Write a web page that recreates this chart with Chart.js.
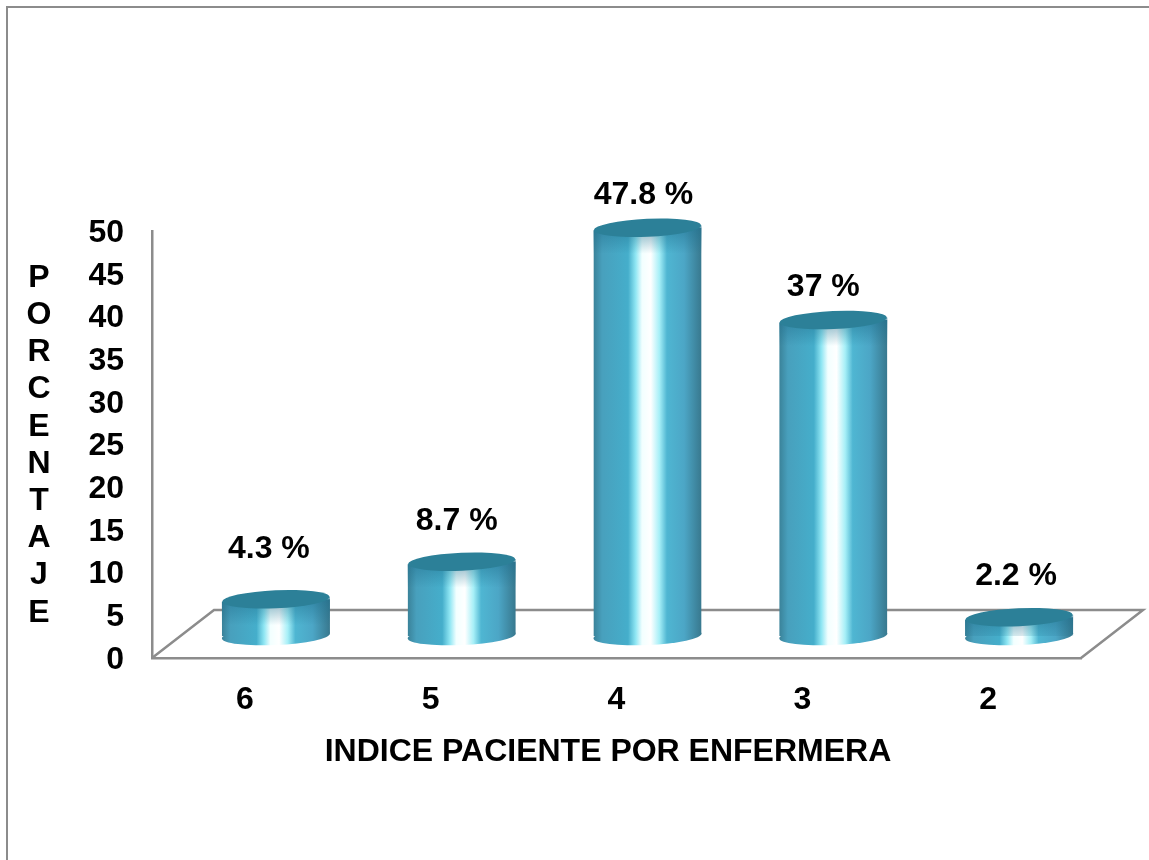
<!DOCTYPE html>
<html lang="es">
<head>
<meta charset="utf-8">
<title>Indice paciente por enfermera</title>
<style>
  html, body { margin: 0; padding: 0; background: #fff; }
  #wrap { position: relative; width: 1149px; height: 860px; }
</style>
<script src="https://cdn.jsdelivr.net/npm/chart.js@4/dist/chart.umd.js"></script>
</head>
<body>
<div id="wrap"><canvas id="chart" width="1149" height="860"></canvas></div>
<script>
// Chart content
const categories = ['6', '5', '4', '3', '2'];
const percentages = [4.3, 8.7, 47.8, 37, 2.2];
const yTicks = [0, 5, 10, 15, 20, 25, 30, 35, 40, 45, 50];
const yAxisLetters = ['P', 'O', 'R', 'C', 'E', 'N', 'T', 'A', 'J', 'E'];
const xAxisTitle = 'INDICE PACIENTE POR ENFERMERA';

// Oblique projection of the floor: the cylinders stand halfway back on it
const FLOOR_DX = 62, FLOOR_DY = 48;
const BAR_DX = 31, BAR_DY = 22;
const RIM_RY = 9;
const RIM_TILT = -0.045;
// Hand placement of each value label relative to the top of its cylinder
const labelOffsets = [[-7, -50], [-5, -41], [-4, -33], [-10, -33], [-3, -41]];

const FONT_FAMILY = '"Liberation Sans", Arial, sans-serif';
const FONT_SIZE = 32;
const FONT = `bold ${FONT_SIZE}px ${FONT_FAMILY}`;
const AXIS_GREY = '#8c8c8c';

function cylinderGradient(ctx, cx, halfWidth) {
  const g = ctx.createLinearGradient(cx - halfWidth, 0, cx + halfWidth, 0);
  g.addColorStop(0, '#3a8299');
  g.addColorStop(0.08, '#48a0bd');
  g.addColorStop(0.32, '#45aecb');
  g.addColorStop(0.39, '#8fe6f3');
  g.addColorStop(0.45, '#f2ffff');
  g.addColorStop(0.53, '#ffffff');
  g.addColorStop(0.61, '#a6eff7');
  g.addColorStop(0.68, '#4fb6d2');
  g.addColorStop(0.84, '#4ca6c6');
  g.addColorStop(1, '#38788e');
  return g;
}

const cylinderPlugin = {
  id: 'cylinders',
  beforeDraw(chart) {
    // Nudge the value axis labels down so the digits sit centred on their ticks
    const s = chart.scales.y;
    const items = s._labelItems || (s._labelItems = s._computeLabelItems(chart.chartArea));
    items.forEach(item => { item.options.translation[1] += 2; });
  },
  beforeDatasetsDraw(chart) {
    const { ctx, chartArea: a } = chart;
    // Floor outline and the frame around the plot
    ctx.save();
    ctx.strokeStyle = AXIS_GREY;
    ctx.lineWidth = 2.5;
    ctx.beginPath();
    ctx.moveTo(a.left, a.bottom);
    ctx.lineTo(a.left + FLOOR_DX, a.bottom - FLOOR_DY);
    ctx.lineTo(a.right + FLOOR_DX, a.bottom - FLOOR_DY);
    ctx.lineTo(a.right, a.bottom);
    ctx.stroke();
    ctx.lineWidth = 2;
    ctx.beginPath();
    ctx.moveTo(7, 860);
    ctx.lineTo(7, 7);
    ctx.lineTo(1149, 7);
    ctx.stroke();
    ctx.restore();

    const meta = chart.getDatasetMeta(0);
    ctx.save();
    ctx.translate(BAR_DX, -BAR_DY);
    // Round base of each cylinder, under the body
    meta.data.forEach(bar => {
      const half = bar.width / 2;
      ctx.fillStyle = cylinderGradient(ctx, bar.x, half);
      ctx.beginPath();
      ctx.ellipse(bar.x, bar.base, half, RIM_RY, RIM_TILT, 0, Math.PI * 2);
      ctx.fill();
    });
    // Slant the ends of the bodies so they meet the tilted rims
    ctx.save();
    ctx.beginPath();
    meta.data.forEach(bar => {
      const half = bar.width / 2;
      const rise = half * Math.sin(-RIM_TILT);
      ctx.moveTo(bar.x - half, bar.y + rise);
      ctx.lineTo(bar.x + half, bar.y - rise);
      ctx.lineTo(bar.x + half, bar.base - rise);
      ctx.lineTo(bar.x - half, bar.base + rise);
      ctx.closePath();
    });
    ctx.clip();
    // Bodies are drawn by the library with this offset still applied
  },
  afterDatasetsDraw(chart) {
    const { ctx } = chart;
    ctx.restore();
    const meta = chart.getDatasetMeta(0);
    meta.data.forEach(bar => {
      const half = bar.width / 2;
      const rise = half * Math.sin(-RIM_TILT);
      // Shadow under the rim
      const depth = Math.min(26, bar.base - bar.y);
      const shade = ctx.createLinearGradient(0, bar.y, 0, bar.y + 26);
      shade.addColorStop(0, 'rgba(30,110,140,0.55)');
      shade.addColorStop(1, 'rgba(30,110,140,0)');
      ctx.fillStyle = shade;
      ctx.beginPath();
      ctx.moveTo(bar.x - half, bar.y + rise);
      ctx.lineTo(bar.x + half, bar.y - rise);
      ctx.lineTo(bar.x + half, bar.y + depth);
      ctx.lineTo(bar.x - half, bar.y + depth);
      ctx.closePath();
      ctx.fill();
      // Top face
      ctx.fillStyle = '#2c8098';
      ctx.beginPath();
      ctx.ellipse(bar.x, bar.y, half - 0.5, RIM_RY, RIM_TILT, 0, Math.PI * 2);
      ctx.fill();
    });
    ctx.restore();

    // Value labels
    ctx.save();
    ctx.font = FONT;
    ctx.fillStyle = '#000';
    ctx.textAlign = 'center';
    ctx.textBaseline = 'middle';
    meta.data.forEach((bar, i) => {
      const [ox, oy] = labelOffsets[i];
      ctx.fillText(percentages[i] + ' %', bar.x + BAR_DX + ox, bar.y - BAR_DY + oy);
    });
    // Stacked vertical axis title
    yAxisLetters.forEach((letter, i) => {
      ctx.fillText(letter, 39, 278 + i * 37.2);
    });
    // Horizontal axis title
    ctx.fillText(xAxisTitle, 608, 752);
    ctx.restore();
  }
};

new Chart(document.getElementById('chart'), {
  type: 'bar',
  plugins: [cylinderPlugin],
  data: {
    labels: categories,
    datasets: [{
      data: percentages,
      clip: false,
      borderWidth: 0,
      barPercentage: 0.582,
      categoryPercentage: 1,
      backgroundColor(c) {
        const chart = c.chart;
        if (!chart.chartArea || c.dataIndex === undefined) return '#48a0bd';
        const x = chart.scales.x.getPixelForValue(c.dataIndex);
        return cylinderGradient(chart.ctx, x, 54);
      }
    }]
  },
  options: {
    responsive: false,
    animation: false,
    layout: { padding: { top: 231, right: 68, bottom: 0, left: 0 } },
    plugins: { legend: { display: false }, tooltip: { enabled: false }, title: { display: false } },
    scales: {
      x: {
        afterFit(s) { s.height = 202; },
        grid: { display: false, drawTicks: false },
        border: { display: true, color: AXIS_GREY, width: 2.5 },
        ticks: { color: '#000', padding: 23, maxRotation: 0, font: { family: FONT_FAMILY, size: FONT_SIZE, weight: 'bold' } }
      },
      y: {
        min: 0,
        max: 50,
        afterFit(s) { s.width = 152; },
        afterBuildTicks(s) { s.ticks = yTicks.map(v => ({ value: v })); },
        grid: { display: false, drawTicks: false },
        border: { display: true, color: AXIS_GREY, width: 2.5 },
        ticks: { color: '#000', padding: 28, font: { family: FONT_FAMILY, size: FONT_SIZE, weight: 'bold' } }
      }
    }
  }
});
</script>
</body>
</html>
